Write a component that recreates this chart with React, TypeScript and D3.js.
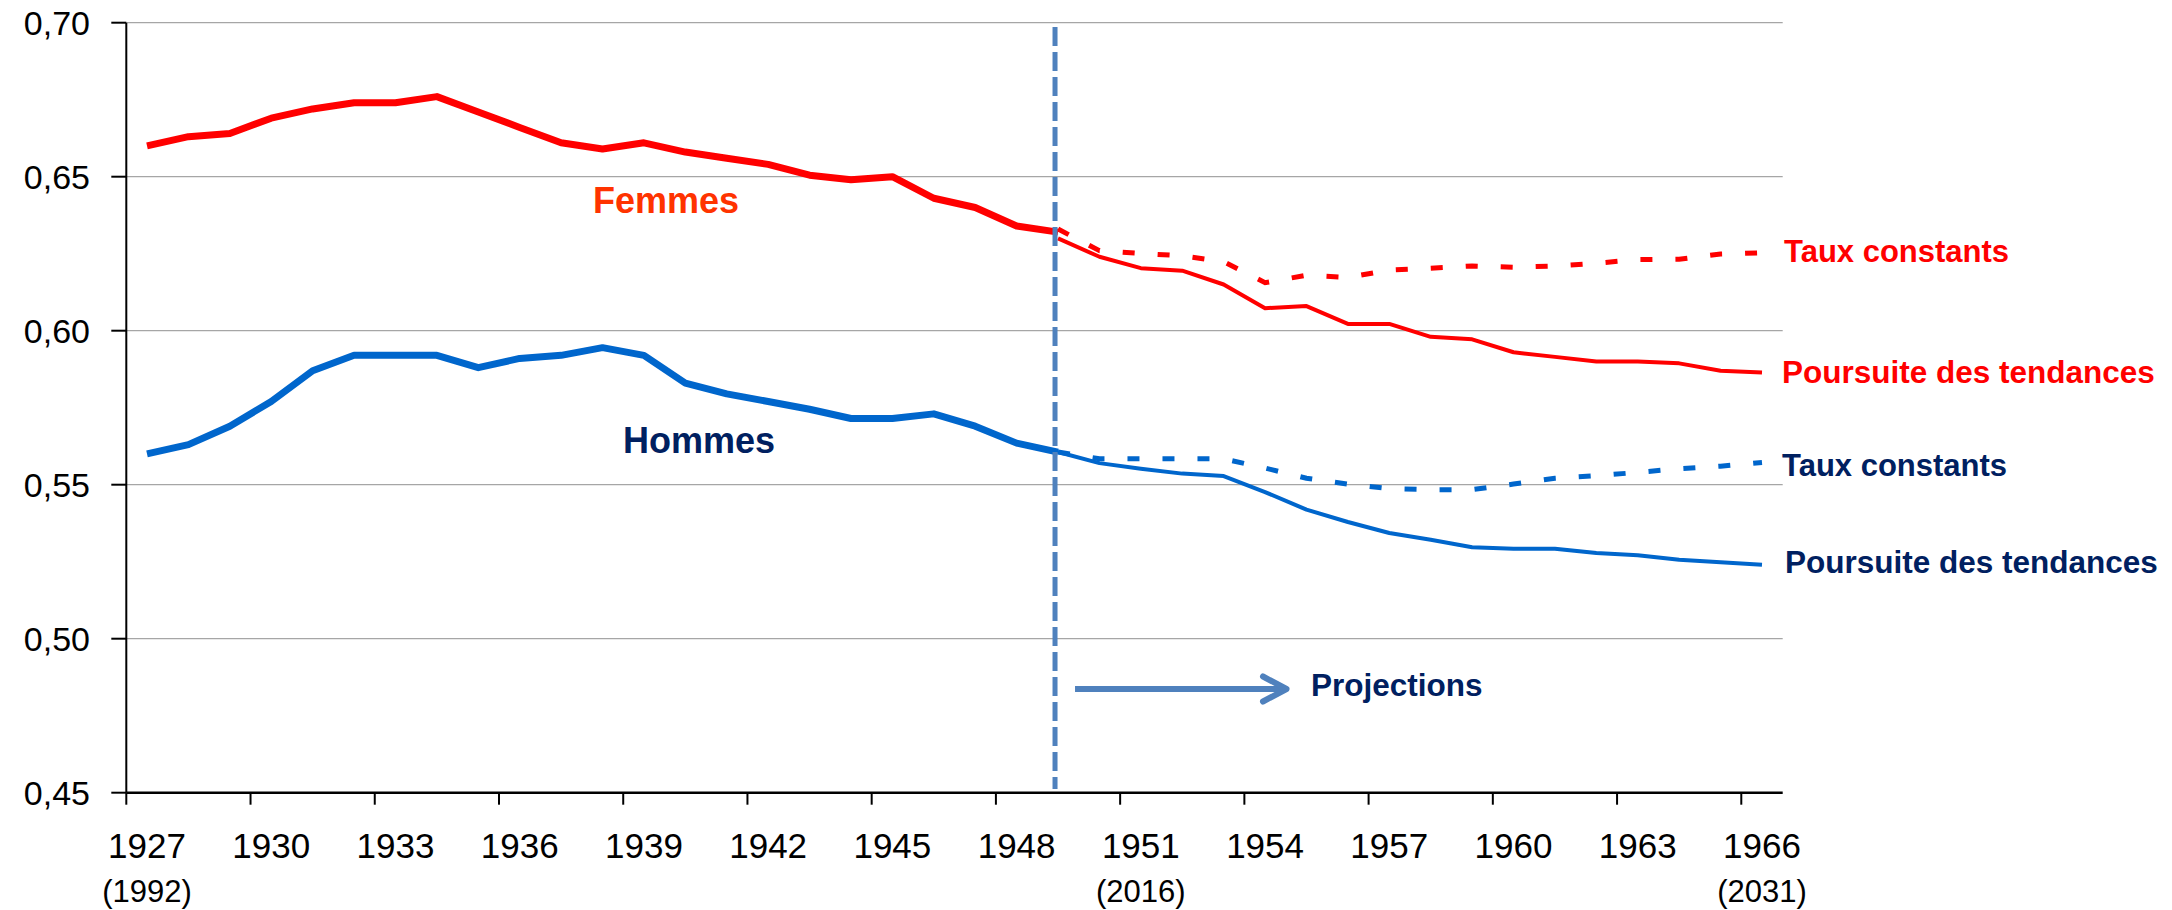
import React from 'react'
import * as d3 from 'd3'

// categories (generation) and the year they reach in the projection
const years = [
  1927, 1928, 1929, 1930, 1931, 1932, 1933, 1934, 1935, 1936, 1937, 1938, 1939, 1940,
  1941, 1942, 1943, 1944, 1945, 1946, 1947, 1948, 1949, 1950, 1951, 1952, 1953, 1954,
  1955, 1956, 1957, 1958, 1959, 1960, 1961, 1962, 1963, 1964, 1965, 1966,
]
const tickYears = [1927, 1930, 1933, 1936, 1939, 1942, 1945, 1948, 1951, 1954, 1957, 1960, 1963, 1966]
const subLabels: [number, string][] = [
  [1927, '(1992)'],
  [1951, '(2016)'],
  [1966, '(2031)'],
]
const yTicks = [0.45, 0.5, 0.55, 0.6, 0.65, 0.7]

// observed, 1927 -> 1949
const femmesObs = [
  0.66, 0.663, 0.664, 0.669, 0.672, 0.674, 0.674, 0.676, 0.671, 0.666, 0.661, 0.659, 0.661, 0.658,
  0.656, 0.654, 0.6505, 0.649, 0.65, 0.643, 0.64, 0.634, 0.632,
]
const hommesObs = [
  0.56, 0.563, 0.569, 0.577, 0.587, 0.592, 0.592, 0.592, 0.588, 0.591, 0.592, 0.5945, 0.592, 0.583,
  0.5795, 0.577, 0.5745, 0.5715, 0.5715, 0.573, 0.569, 0.5635, 0.5606,
]
// projections, 1949 -> 1966
const femmesTendances = [
  0.63, 0.624, 0.6203, 0.6195, 0.615, 0.6073, 0.608, 0.6022, 0.6022, 0.598, 0.5972, 0.593, 0.5915,
  0.59, 0.59, 0.5894, 0.587, 0.5864,
]
const femmesConstants = [
  0.633, 0.626, 0.6251, 0.6243, 0.6224, 0.6156, 0.618, 0.6173, 0.6197, 0.6203, 0.621, 0.6206, 0.621,
  0.6219, 0.6231, 0.6232, 0.6249, 0.6253,
]
const hommesTendances = [
  0.5606, 0.557, 0.5552, 0.5536, 0.5528, 0.5476, 0.5419, 0.5379, 0.5343, 0.5321, 0.5297, 0.5292,
  0.5292, 0.5278, 0.5271, 0.5256, 0.5248, 0.524,
]
const hommesConstants = [
  0.5606, 0.5584, 0.5584, 0.5584, 0.5584, 0.5554, 0.5521, 0.5502, 0.5487, 0.5484, 0.5484, 0.5502,
  0.5521, 0.5529, 0.554, 0.5552, 0.556, 0.5572,
]
const projStart = 1949

const W = 2172
const H = 910
const left = 126.3
const right = 1782.7
const top = 22.7
const bottom = 792.7
const font = '"Liberation Sans", Arial, sans-serif'

const RED = '#FF0000'
const BLUE = '#0066CC'
const NAVY = '#002060'
const STEEL = '#4F81BD'

export default function App() {
  const x = d3.scaleBand<number>().domain(years).range([left, right]).padding(0)
  const cx = (yr: number) => (x(yr) ?? 0) + x.bandwidth() / 2
  const y = d3.scaleLinear().domain([0.45, 0.7]).range([bottom, top])

  const line = d3
    .line<[number, number]>()
    .x((d) => cx(d[0]))
    .y((d) => y(d[1]))

  const obs = (vals: number[]) => vals.map((v, i) => [years[i], v] as [number, number])
  const proj = (vals: number[]) =>
    vals.map((v, i) => [projStart + i, v] as [number, number])

  const fmt = (v: number) => d3.format('.2f')(v).replace('.', ',')
  const xp = cx(projStart) - 3

  return (
    <div style={{ position: 'absolute', left: 0, top: 0 }}>
      <svg width={W} height={H} style={{ display: 'block', background: '#fff' }} fontFamily={font}>
        {/* grid */}
        {yTicks.slice(1).map((t) => (
          <line key={`g${t}`} x1={left} x2={right} y1={y(t)} y2={y(t)} stroke='#a6a6a6' strokeWidth={1.3} />
        ))}

        {/* y axis */}
        <line x1={left} x2={left} y1={top} y2={bottom} stroke='#000' strokeWidth={2} />
        {yTicks.map((t) => (
          <g key={`y${t}`}>
            <line x1={left - 15} x2={left} y1={y(t)} y2={y(t)} stroke='#000' strokeWidth={2} />
            <text x={90} y={y(t) + 12} textAnchor='end' fontSize={34} fill='#000'>
              {fmt(t)}
            </text>
          </g>
        ))}

        {/* x axis */}
        <line x1={left} x2={right} y1={bottom} y2={bottom} stroke='#000' strokeWidth={2.5} />
        {tickYears.map((yr) => (
          <g key={`x${yr}`}>
            <line x1={x(yr)} x2={x(yr)} y1={bottom} y2={bottom + 12} stroke='#000' strokeWidth={2} />
            <text x={cx(yr)} y={858} textAnchor='middle' fontSize={35} fill='#000'>
              {yr}
            </text>
          </g>
        ))}
        {subLabels.map(([yr, s]) => (
          <text key={s} x={cx(yr)} y={902} textAnchor='middle' fontSize={31} fill='#000'>
            {s}
          </text>
        ))}

        {/* series */}
        <path d={line(proj(femmesConstants)) ?? ''} fill='none' stroke={RED} strokeWidth={5} strokeDasharray='12 23' />
        <path d={line(proj(hommesConstants)) ?? ''} fill='none' stroke={BLUE} strokeWidth={5} strokeDasharray='12 23' />
        <path d={line(proj(femmesTendances)) ?? ''} fill='none' stroke={RED} strokeWidth={4} strokeLinejoin='round' />
        <path d={line(proj(hommesTendances)) ?? ''} fill='none' stroke={BLUE} strokeWidth={4} strokeLinejoin='round' />
        <path d={line(obs(femmesObs)) ?? ''} fill='none' stroke={RED} strokeWidth={7} strokeLinejoin='round' />
        <path d={line(obs(hommesObs)) ?? ''} fill='none' stroke={BLUE} strokeWidth={7} strokeLinejoin='round' />

        {/* projection start */}
        <line x1={xp} x2={xp} y1={27} y2={789} stroke={STEEL} strokeWidth={5} strokeDasharray='19 6' />
        <line x1={xp + 20} x2={1286} y1={689} y2={689} stroke={STEEL} strokeWidth={6} />
        <polyline
          points={`1263,676.5 1286.5,689 1263,701.5`}
          fill='none'
          stroke={STEEL}
          strokeWidth={6}
          strokeLinecap='round'
          strokeLinejoin='round'
        />
        <text x={1311} y={696} fontSize={31.5} fontWeight='bold' fill={NAVY}>
          Projections
        </text>

        {/* labels */}
        <text x={593} y={213} fontSize={36} fontWeight='bold' fill='#FF3300'>
          Femmes
        </text>
        <text x={623} y={453} fontSize={36} fontWeight='bold' fill={NAVY}>
          Hommes
        </text>
        <text x={1784} y={262} fontSize={31} fontWeight='bold' fill={RED}>
          Taux constants
        </text>
        <text x={1782} y={383} fontSize={31.5} fontWeight='bold' fill={RED}>
          Poursuite des tendances
        </text>
        <text x={1782} y={476} fontSize={31} fontWeight='bold' fill={NAVY}>
          Taux constants
        </text>
        <text x={1785} y={573} fontSize={31.5} fontWeight='bold' fill={NAVY}>
          Poursuite des tendances
        </text>
      </svg>
    </div>
  )
}
